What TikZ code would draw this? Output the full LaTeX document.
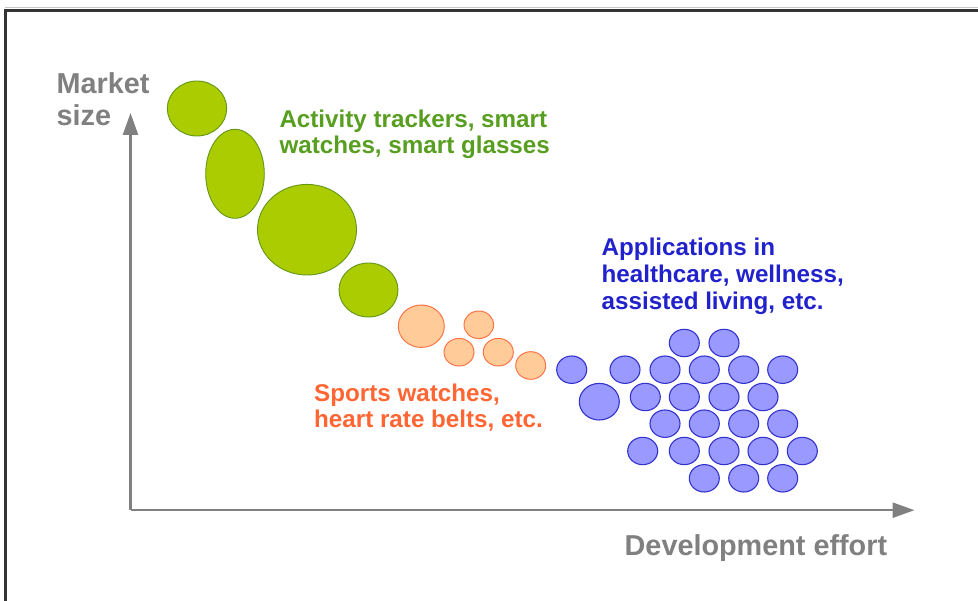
\documentclass[tikz,border=0pt]{standalone}
\usepackage{fontspec}
\setmainfont{Liberation Sans}
\usetikzlibrary{arrows.meta}
\definecolor{axisgray}{RGB}{128,128,128}
\definecolor{framegray}{RGB}{51,51,51}
\definecolor{greenfill}{RGB}{170,204,0}
\definecolor{greenline}{RGB}{100,150,25}
\definecolor{greentext}{RGB}{88,158,32}
\definecolor{orangefill}{RGB}{255,204,153}
\definecolor{orangeline}{RGB}{255,115,70}
\definecolor{orangetext}{RGB}{255,102,51}
\definecolor{bluefill}{RGB}{153,153,255}
\definecolor{blueline}{RGB}{51,51,204}
\definecolor{bluetext}{RGB}{34,34,204}
\tikzset{
  greenblob/.style={fill=greenfill,draw=greenline,line width=0.9pt},
  orangeblob/.style={fill=orangefill,draw=orangeline,line width=1pt},
  blueblob/.style={fill=bluefill,draw=blueline,line width=1.1pt},
  lbl/.style={anchor=base west,inner sep=0pt,font=\bfseries\fontsize{24.2}{27}\selectfont},
  axlbl/.style={anchor=base west,inner sep=0pt,font=\bfseries\fontsize{28.8}{32}\selectfont,text=axisgray},
  axisline/.style={draw=axisgray,line width=2.6pt,-{Triangle[length=22pt,width=15pt]}}
}
\newcommand{\bb}[3]{\path[blueblob] (#1,#2) ellipse [x radius=15pt,y radius=13.7pt];}
\begin{document}
\begin{tikzpicture}[x=1pt,y=-1pt]
\useasboundingbox (0,0) rectangle (978,601);
% frame
\draw[gray!45,line width=0.8pt] (5,7) -- (985,7);
\draw[framegray,line width=2.7pt] (5.3,610) -- (5.3,10.3) -- (985,10.3);
% axes
\coordinate (origin) at (130.5,510.2);
\coordinate (ytip) at (130.5,113);
\coordinate (xtip) at (914.5,510.2);
\draw[axisline] (origin) -- (ytip);
\draw[axisline] (origin) -- (xtip);
\node[axlbl] (mk) at (56.5,93.5) {Market};
\node[axlbl] (sz) at (56.5,125.5) {size};
\node[axlbl] (dev) at (624.5,555.5) {Development effort};
% green
\path[greenblob] (197,108.5) ellipse [x radius=29.7pt,y radius=27.5pt];
\path[greenblob] (235,173.8) ellipse [x radius=29.3pt,y radius=44.5pt];
\path[greenblob] (307,229.7) ellipse [x radius=49.5pt,y radius=45.3pt];
\path[greenblob] (368.5,290) ellipse [x radius=29.5pt,y radius=27pt];
\node[lbl,text=greentext] (g1) at (279.3,127.3) {Activity trackers, smart};
\node[lbl,text=greentext] (g2) at (279.3,153.5) {watches, smart glasses};
% orange
\path[orangeblob] (421.3,326.2) ellipse [x radius=23pt,y radius=21.2pt];
\path[orangeblob] (478.8,324.8) ellipse [x radius=14.8pt,y radius=13.8pt];
\path[orangeblob] (459,352.2) ellipse [x radius=15pt,y radius=13.8pt];
\path[orangeblob] (498.3,352.2) ellipse [x radius=15pt,y radius=13.8pt];
\path[orangeblob] (530.7,365.5) ellipse [x radius=15pt,y radius=13.8pt];
\node[lbl,text=orangetext] (o1) at (314,401.7) {Sports watches,};
\node[lbl,text=orangetext] (o2) at (314,427.5) {heart rate belts, etc.};
% blue
\bb{684.3}{343}{}\bb{724}{343}{}
\bb{571.7}{369.7}{}\bb{625}{369.7}{}\bb{665}{369.7}{}\bb{704.3}{369.7}{}\bb{743.7}{369.7}{}\bb{782.7}{369.7}{}
\path[blueblob] (599.3,401.7) ellipse [x radius=20pt,y radius=18.3pt];
\bb{645.3}{397}{}\bb{684.3}{397}{}\bb{724}{397}{}\bb{763}{397}{}
\bb{665}{423.7}{}\bb{704.3}{423.7}{}\bb{743.7}{423.7}{}\bb{782.7}{423.7}{}
\bb{642.7}{451}{}\bb{684.3}{451}{}\bb{724}{451}{}\bb{763}{451}{}\bb{802.3}{451}{}
\bb{704.3}{478.3}{}\bb{743.7}{478.3}{}\bb{782.7}{478.3}{}
\node[lbl,text=bluetext] (b1) at (601.5,256) {Applications in};
\node[lbl,text=bluetext] (b2) at (601.5,282.8) {healthcare, wellness,};
\node[lbl,text=bluetext] (b3) at (601.5,310) {assisted living, etc.};
\end{tikzpicture}
\end{document}
